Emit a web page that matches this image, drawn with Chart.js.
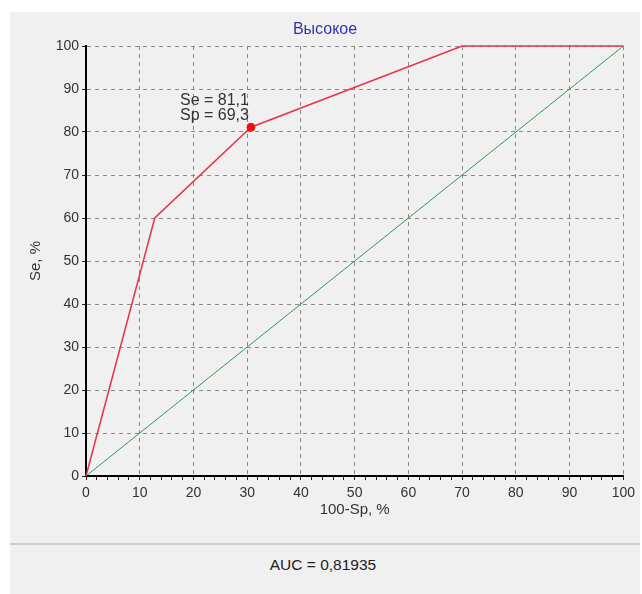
<!DOCTYPE html>
<html>
<head>
<meta charset="utf-8">
<title>ROC</title>
<script src="https://cdn.jsdelivr.net/npm/chart.js@4"></script>
<style>
    body { margin: 0; background: #fff; font-family: 'Liberation Sans', Arial, sans-serif; }
    #panel { position: absolute; left: 10px; top: 12px; width: 630px; height: 582px; background: #f0f0f0; }
    #rocChart { position: absolute; left: 0; top: 0; }
    #sep { position: absolute; left: 0; top: 531px; width: 630px; height: 2px; background: #cdcdcd; }
    #auc { position: absolute; left: 0; top: 544px; width: 626px; text-align: center; font-size: 15.5px; color: #222; }
</style>
</head>
<body>
<div id="panel">
    <canvas id="rocChart" width="630" height="530"></canvas>
    <div id="sep"></div>
    <div id="auc">AUC = 0,81935</div>
</div>
<script>
// ── ROC curve data ──
const rocX = [0, 12.8, 30.7, 70, 100];      // 100-Sp, %
const rocY = [0, 60, 81.1, 100, 100];       // Se, %
const diagX = [0, 100];
const diagY = [0, 100];

// cut-off point
const cutSe = 81.1;
const cutSp = 69.3;

const xTicks = [0, 10, 20, 30, 40, 50, 60, 70, 80, 90, 100];
const yTicks = [0, 10, 20, 30, 40, 50, 60, 70, 80, 90, 100];

const toPoints = (xs, ys) => xs.map((x, i) => ({ x: x, y: ys[i] }));
const fmt = v => v.toFixed(1).replace('.', ',');

const fontFamily = "'Liberation Sans', Arial, sans-serif";
const textColor = '#333';

// text label next to the cut-off point
const cutLabel = {
    id: 'cutLabel',
    afterDatasetsDraw(chart) {
        const { ctx, scales: { x, y } } = chart;
        const px = x.getPixelForValue(100 - cutSp);
        const py = y.getPixelForValue(cutSe);
        ctx.save();
        ctx.font = '16px ' + fontFamily;
        ctx.fillStyle = textColor;
        ctx.textAlign = 'right';
        ctx.textBaseline = 'alphabetic';
        ctx.fillText('Se = ' + fmt(cutSe), px - 2, py - 22);
        ctx.fillText('Sp = ' + fmt(cutSp), px - 2, py - 7);
        ctx.restore();
    }
};

new Chart(document.getElementById('rocChart'), {
    type: 'scatter',
    data: {
        datasets: [
            {
                data: toPoints(rocX, rocY),
                showLine: true,
                borderColor: '#e8334a',
                borderWidth: 1.5,
                pointRadius: 0,
                order: 1
            },
            {
                data: toPoints(diagX, diagY),
                showLine: true,
                borderColor: '#2e9a52',
                borderWidth: 1,
                pointRadius: 0,
                order: 2
            },
            {
                data: [{ x: 100 - cutSp, y: cutSe }],
                pointRadius: 4,
                backgroundColor: '#ee1111',
                borderColor: '#ee1111',
                order: 0
            }
        ]
    },
    options: {
        responsive: false,
        animation: false,
        clip: false,
        plugins: {
            legend: { display: false },
            tooltip: { enabled: false },
            title: {
                display: true,
                text: 'Высокое',
                color: '#3030b0',
                font: { family: fontFamily, size: 16, weight: 'normal' },
                padding: { top: 8, bottom: 6.8 }
            }
        },
        scales: {
            x: {
                type: 'linear', min: 0, max: 100,
                afterFit: s => { s.height = 66; },
                ticks: {
                    stepSize: 2, autoSkip: false, maxRotation: 0, padding: 5,
                    color: textColor, font: { family: fontFamily, size: 14 },
                    callback: v => xTicks.includes(v) ? v : ''
                },
                grid: {
                    color: c => xTicks.includes(c.tick.value) ? '#8a8a8a' : 'transparent',
                    tickColor: '#222',
                    tickLength: 4
                },
                border: { display: true, color: '#000', width: 2, dash: [4, 4] },
                title: {
                    display: true, text: '100-Sp, %', color: textColor,
                    font: { family: fontFamily, size: 15 },
                    padding: { top: 0, bottom: 23 }
                }
            },
            y: {
                type: 'linear', min: 0, max: 100,
                afterFit: s => { s.width = 76; },
                afterBuildTicks: s => { s.ticks = yTicks.map(v => ({ value: v })); },
                ticks: {
                    padding: 3,
                    color: textColor, font: { family: fontFamily, size: 14 }
                },
                grid: { color: '#8a8a8a', tickColor: '#222', tickLength: 4 },
                border: { display: true, color: '#000', width: 2, dash: [4, 4] },
                title: {
                    display: true, text: 'Se, %', color: textColor,
                    font: { family: fontFamily, size: 15 },
                    padding: { top: 17, bottom: 0 }
                }
            }
        }
    },
    plugins: [cutLabel]
});
</script>
</body>
</html>
